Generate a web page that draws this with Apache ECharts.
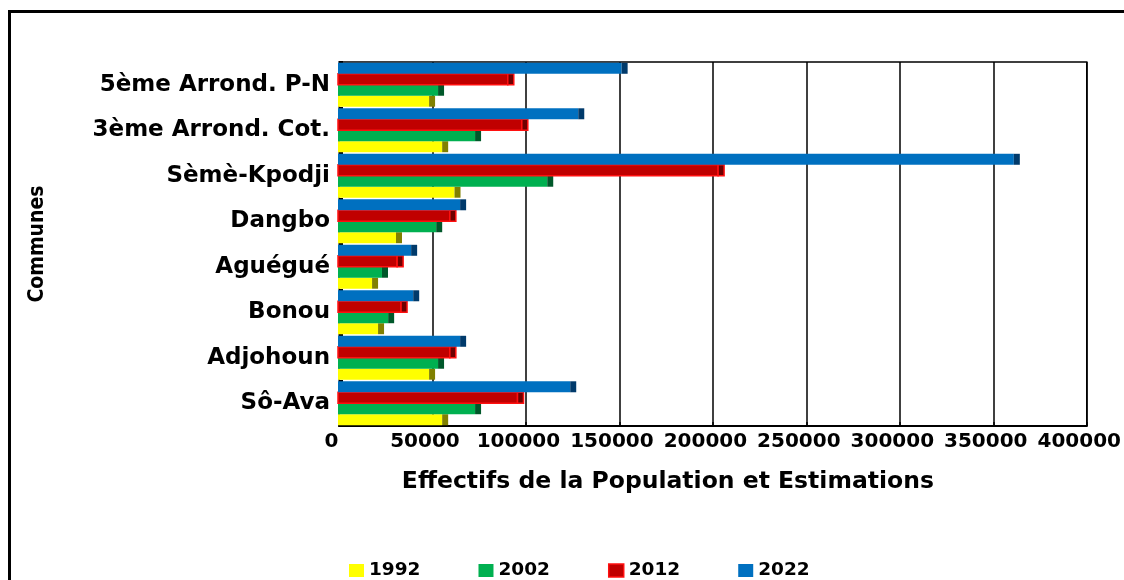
<!DOCTYPE html>
<html>
<head>
<meta charset="utf-8">
<script src="https://cdn.jsdelivr.net/npm/echarts@6/dist/echarts.min.js"></script>
<style>
html,body{margin:0;padding:0;background:#fff;}
#chart{width:1124px;height:580px;}
</style>
</head>
<body>
<div id="chart"></div>
<script>
// Categories listed bottom-to-top (as drawn on the category axis)
const communes = ['Sô-Ava', 'Adjohoun', 'Bonou', 'Aguégué', 'Dangbo', 'Sèmè-Kpodji', '3ème Arrond. Cot.', '5ème Arrond. P-N'];
const years = ['1992', '2002', '2012', '2022'];
const pop1992 = [58400, 51400, 24100, 20900, 33700, 65000, 58400, 51400];
const pop2002 = [76000, 56200, 29500, 26200, 55200, 114600, 76000, 56200];
const pop2012 = [98700, 62500, 36400, 34300, 62500, 206000, 101000, 93500];
const pop2022 = [126900, 68000, 42900, 41800, 68000, 364200, 131200, 154400];
const xTicks = [0, 50000, 100000, 150000, 200000, 250000, 300000, 350000, 400000];

const seriesValues = [pop1992, pop2002, pop2012, pop2022];
const fills = ['#ffff00', '#00b050', '#c00000', '#0070c0'];
const caps = ['#808000', '#00582a', '#6e0000', '#003a6b'];
const strokes = [null, null, '#ff1010', null];

function makeRender(sIdx) {
  return function (params, api) {
    const v = api.value(0), c = api.value(1);
    const p0 = api.coord([0, c]);
    const p1 = api.coord([v, c]);
    const band = api.size([0, 1])[1];
    const groupH = band * 0.965;
    const h = groupH / 4;
    const y = p0[1] + groupH / 2 - (sIdx + 1) * h;
    const capW = 6;
    const x0 = p0[0] - 1;
    const stroke = strokes[sIdx];
    const mainStyle = { fill: fills[sIdx] };
    const capStyle = { fill: caps[sIdx] };
    if (stroke) {
      mainStyle.stroke = stroke; mainStyle.lineWidth = 1.5;
      capStyle.stroke = stroke; capStyle.lineWidth = 1.5;
    }
    return {
      type: 'group',
      children: [
        { type: 'rect', shape: { x: x0, y: y, width: p1[0] - x0 - capW, height: h }, style: mainStyle },
        { type: 'rect', shape: { x: p1[0] - capW, y: y, width: capW, height: h }, style: capStyle }
      ]
    };
  };
}

const series = years.map((yr, s) => ({
  name: yr,
  type: 'custom',
  renderItem: makeRender(s),
  encode: { x: 0, y: 1 },
  itemStyle: { color: fills[s] },
  data: seriesValues[s].map((v, i) => [v, i]),
  z: 3
}));

const chart = echarts.init(document.getElementById('chart'), null, { renderer: 'canvas' });
chart.setOption({
  animation: false,
  backgroundColor: '#ffffff',
  graphic: [{
    type: 'rect',
    shape: { x: 9.5, y: 11.5, width: 1200, height: 700 },
    style: { fill: 'none', stroke: '#000', lineWidth: 3 },
    silent: true
  }],
  grid: {
    left: 339, right: 37, top: 62, bottom: 154,
    show: true, borderColor: '#000', borderWidth: 1.5, backgroundColor: 'transparent'
  },
  legend: {
    data: [
      { name: '1992' },
      { name: '2002' },
      { name: '2012', itemStyle: { borderColor: '#ff1010', borderWidth: 1.5 } },
      { name: '2022' }
    ],
    left: 344, top: 556,
    icon: 'rect', itemWidth: 15, itemHeight: 13, itemGap: 58,
    textStyle: { fontFamily: 'DejaVu Sans', fontWeight: 'bold', fontSize: 18.5, color: '#000' }
  },
  xAxis: {
    type: 'value', min: 0, max: 400000, interval: 50000,
    name: 'Effectifs de la Population et Estimations',
    nameLocation: 'middle', nameGap: 44,
    nameTextStyle: { fontFamily: 'DejaVu Sans', fontWeight: 'bold', fontSize: 23.5, color: '#000', padding: [0, 90, 0, 0] },
    axisLine: { show: true, lineStyle: { color: '#000', width: 2 } },
    axisTick: { show: true, inside: true, length: 4, lineStyle: { color: '#000', width: 1.5 } },
    splitLine: { show: true, lineStyle: { color: '#000', width: 1.5 } },
    axisLabel: {
      margin: 6, color: '#000', fontFamily: 'DejaVu Sans', fontWeight: 'bold', fontSize: 20,
      padding: [0, 15, 0, 0],
      formatter: v => String(v)
    }
  },
  yAxis: {
    type: 'category', data: communes,
    name: 'Communes', nameLocation: 'middle', nameGap: 291,
    nameTextStyle: { fontFamily: 'DejaVu Sans Condensed', fontWeight: 'bold', fontSize: 21, color: '#000' },
    axisLine: { show: true, lineStyle: { color: '#808080', width: 2 } },
    axisTick: { show: true, inside: true, length: 4, lineStyle: { color: '#000', width: 2 } },
    axisLabel: { margin: 9, color: '#000', fontFamily: 'DejaVu Sans', fontWeight: 'bold', fontSize: 23 },
    splitLine: { show: false }
  },
  series: series
});
</script>
</body>
</html>
